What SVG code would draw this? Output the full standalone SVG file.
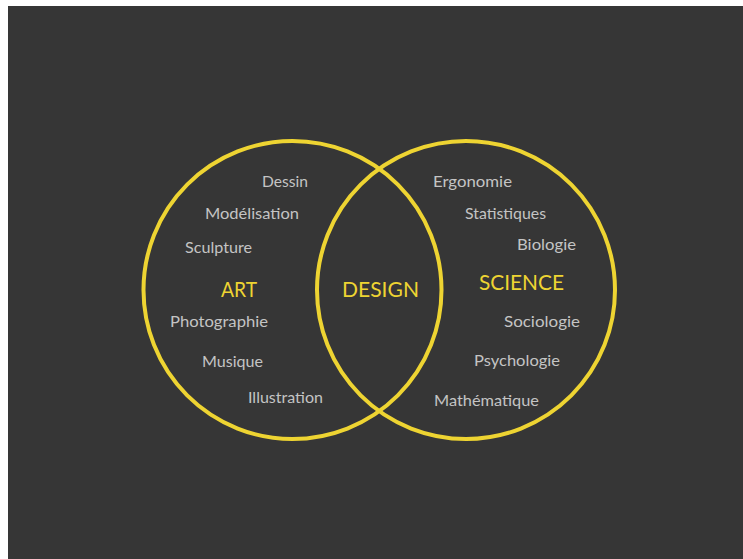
<svg xmlns="http://www.w3.org/2000/svg" width="743" height="559" viewBox="0 0 743 559">
<style>
.ring{fill:none;stroke:#eed432;stroke-width:4}
.item{font-family:Lato,"Liberation Sans",sans-serif;font-size:16px;fill:#c4c4c4;text-anchor:middle}
.title{font-family:Lato,"Liberation Sans",sans-serif;font-size:21px;fill:#eed432;text-anchor:middle}
</style>
<rect x="0" y="0" width="743" height="559" fill="#ffffff"/>
<rect x="8" y="6" width="735" height="553" fill="#363636"/>
<g id="connectors"></g>
<g id="art">
<circle class="ring" cx="292.5" cy="290" r="149"/>
<text class="title" x="239" y="297" textLength="36" lengthAdjust="spacingAndGlyphs">ART</text>
<text class="item" x="285" y="187" textLength="46" lengthAdjust="spacingAndGlyphs">Dessin</text>
<text class="item" x="252" y="219" textLength="94" lengthAdjust="spacingAndGlyphs">Modélisation</text>
<text class="item" x="218.5" y="253" textLength="67" lengthAdjust="spacingAndGlyphs">Sculpture</text>
<text class="item" x="219" y="327" textLength="98" lengthAdjust="spacingAndGlyphs">Photographie</text>
<text class="item" x="232.5" y="367" textLength="61" lengthAdjust="spacingAndGlyphs">Musique</text>
<text class="item" x="285.5" y="403" textLength="75" lengthAdjust="spacingAndGlyphs">Illustration</text>
</g>
<g id="science">
<circle class="ring" cx="466" cy="290" r="149"/>
<text class="title" x="521.5" y="290" textLength="85" lengthAdjust="spacingAndGlyphs">SCIENCE</text>
<text class="item" x="472.5" y="187" textLength="79" lengthAdjust="spacingAndGlyphs">Ergonomie</text>
<text class="item" x="505.5" y="219" textLength="81" lengthAdjust="spacingAndGlyphs">Statistiques</text>
<text class="item" x="546.5" y="250" textLength="59" lengthAdjust="spacingAndGlyphs">Biologie</text>
<text class="item" x="542" y="327" textLength="76" lengthAdjust="spacingAndGlyphs">Sociologie</text>
<text class="item" x="517" y="366" textLength="86" lengthAdjust="spacingAndGlyphs">Psychologie</text>
<text class="item" x="486.5" y="406" textLength="105" lengthAdjust="spacingAndGlyphs">Mathématique</text>
</g>
<g id="design">
<text class="title" x="380.5" y="297" textLength="77" lengthAdjust="spacingAndGlyphs">DESIGN</text>
</g>
</svg>
